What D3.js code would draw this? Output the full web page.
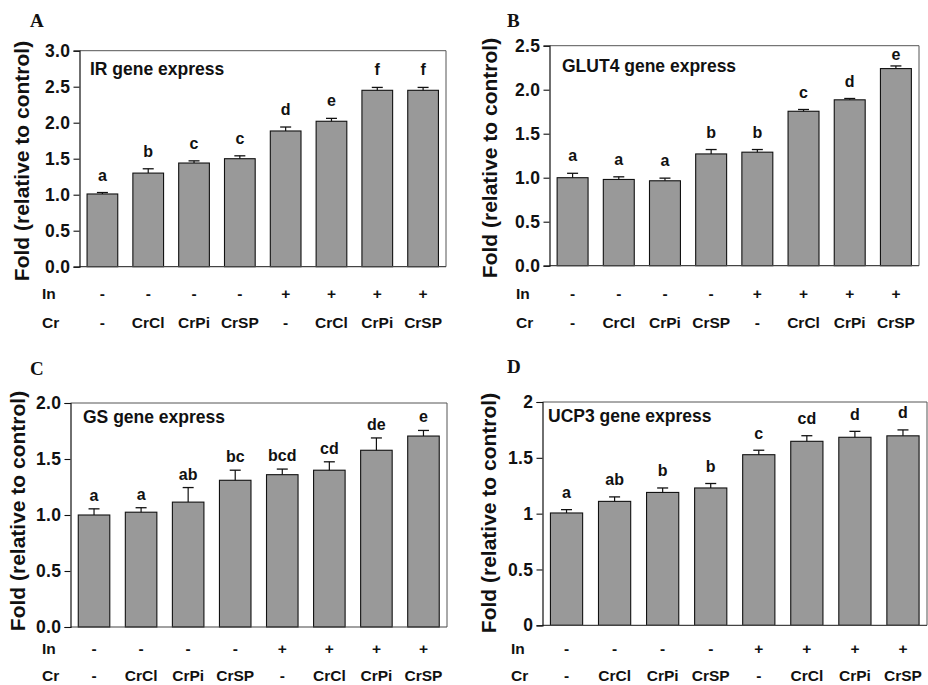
<!DOCTYPE html>
<html>
<head>
<meta charset="utf-8">
<script src="https://cdn.jsdelivr.net/npm/d3@7/dist/d3.min.js"></script>
<style>
  html, body { margin: 0; padding: 0; background: #fff; }
  svg { display: block; }
  text { font-family: "Liberation Sans", Arial, sans-serif; font-weight: bold; fill: #111; }
  .plabel { font-family: "Liberation Serif", "Times New Roman", serif; }
</style>
</head>
<body>
<svg id="chart" width="928" height="685"></svg>
<script>
// ---------------- data ----------------
const insulin = ["-", "-", "-", "-", "+", "+", "+", "+"];
const chromium = ["-", "CrCl", "CrPi", "CrSP", "-", "CrCl", "CrPi", "CrSP"];

const irValues   = [1.01, 1.30, 1.44, 1.50, 1.885, 2.02, 2.45, 2.45];
const irErrors   = [0.02, 0.06, 0.03, 0.04, 0.055, 0.04, 0.04, 0.04];
const irLetters  = ["a", "b", "c", "c", "d", "e", "f", "f"];
const irTicks    = [0, 0.5, 1.0, 1.5, 2.0, 2.5, 3.0];

const glutValues  = [1.00, 0.98, 0.965, 1.27, 1.29, 1.755, 1.885, 2.24];
const glutErrors  = [0.05, 0.03, 0.03, 0.05, 0.03, 0.02, 0.015, 0.03];
const glutLetters = ["a", "a", "a", "b", "b", "c", "d", "e"];
const glutTicks   = [0, 0.5, 1.0, 1.5, 2.0, 2.5];

const gsValues  = [1.00, 1.025, 1.115, 1.31, 1.36, 1.40, 1.578, 1.705];
const gsErrors  = [0.055, 0.04, 0.13, 0.09, 0.05, 0.075, 0.11, 0.05];
const gsLetters = ["a", "a", "ab", "bc", "bcd", "cd", "de", "e"];
const gsTicks   = [0, 0.5, 1.0, 1.5, 2.0];

const ucpValues  = [1.006, 1.11, 1.19, 1.23, 1.528, 1.648, 1.684, 1.697];
const ucpErrors  = [0.03, 0.04, 0.04, 0.04, 0.04, 0.05, 0.053, 0.053];
const ucpLetters = ["a", "ab", "b", "b", "c", "cd", "d", "d"];
const ucpTicks   = [0, 0.5, 1, 1.5, 2];

// ---------------- layout ----------------
const panels = [
  { id: "A", title: "IR gene express", values: irValues, errors: irErrors, letters: irLetters,
    ticks: irTicks, fmt: d3.format(".1f"), ymax: 3.0,
    box: { l: 79.5, r: 446, t: 50.7, b: 266.7 },
    letterX: 30, letterY: 27, titleX: 90, titleY: 75, yTitleX: 23, yTitleY: 161,
    rowX: 42, inY: 299, crY: 328, gap: 12 },
  { id: "B", title: "GLUT4 gene express", values: glutValues, errors: glutErrors, letters: glutLetters,
    ticks: glutTicks, fmt: d3.format(".1f"), ymax: 2.5,
    box: { l: 549.5, r: 919, t: 45.7, b: 265.7 },
    letterX: 507, letterY: 27, titleX: 562, titleY: 72, yTitleX: 491, yTitleY: 158,
    rowX: 516, inY: 299, crY: 328, gap: 12 },
  { id: "C", title: "GS gene express", values: gsValues, errors: gsErrors, letters: gsLetters,
    ticks: gsTicks, fmt: d3.format(".1f"), ymax: 2.0,
    box: { l: 70.5, r: 447, t: 403, b: 627 },
    letterX: 30, letterY: 375, titleX: 83, titleY: 423, yTitleX: 19, yTitleY: 511,
    rowX: 42, inY: 654, crY: 681, gap: 8 },
  { id: "D", title: "UCP3 gene express", values: ucpValues, errors: ucpErrors, letters: ucpLetters,
    ticks: ucpTicks, fmt: d3.format("~g"), ymax: 2.0,
    box: { l: 542.5, r: 927, t: 402, b: 625.3 },
    letterX: 507, letterY: 373, titleX: 548, titleY: 422, yTitleX: 490, yTitleY: 513,
    rowX: 511, inY: 654, crY: 681, gap: 11.5 }
];

const svg = d3.select("#chart");
const idx = d3.range(8);

panels.forEach(p => {
  const g = svg.append("g");
  const b = p.box;

  const x = d3.scaleBand().domain(idx).range([b.l, b.r]).paddingInner(0.33).paddingOuter(0.165);
  const y = d3.scaleLinear().domain([0, p.ymax]).range([b.b, b.t]);

  // frame (top & right)
  g.append("path")
    .attr("d", `M${b.l},${b.t}H${b.r}V${b.b}`)
    .attr("fill", "none").attr("stroke", "#555").attr("stroke-width", 1);

  // bars
  g.selectAll("rect.bar").data(p.values).join("rect")
    .attr("class", "bar")
    .attr("x", (d, i) => x(i))
    .attr("width", x.bandwidth())
    .attr("y", d => y(d))
    .attr("height", d => y(0) - y(d))
    .attr("fill", "#999999")
    .attr("stroke", "#111")
    .attr("stroke-width", 1.1);

  // error bars
  const eg = g.selectAll("g.err").data(p.values).join("g").attr("class", "err");
  eg.append("line")
    .attr("x1", (d, i) => x(i) + x.bandwidth() / 2)
    .attr("x2", (d, i) => x(i) + x.bandwidth() / 2)
    .attr("y1", d => y(d))
    .attr("y2", (d, i) => y(d + p.errors[i]))
    .attr("stroke", "#111").attr("stroke-width", 1.2);
  eg.append("line")
    .attr("x1", (d, i) => x(i) + x.bandwidth() / 2 - 5.5)
    .attr("x2", (d, i) => x(i) + x.bandwidth() / 2 + 5.5)
    .attr("y1", (d, i) => y(d + p.errors[i]))
    .attr("y2", (d, i) => y(d + p.errors[i]))
    .attr("stroke", "#111").attr("stroke-width", 1.3);

  // significance letters
  g.selectAll("text.sig").data(p.letters).join("text")
    .attr("class", "sig")
    .attr("x", (d, i) => x(i) + x.bandwidth() / 2)
    .attr("y", (d, i) => Math.max(y(p.values[i] + p.errors[i]) - p.gap, b.t + 14))
    .attr("text-anchor", "middle")
    .attr("font-size", 16)
    .text(d => d);

  // bottom axis line
  g.append("line")
    .attr("x1", b.l).attr("x2", b.r).attr("y1", b.b).attr("y2", b.b)
    .attr("stroke", "#444").attr("stroke-width", 1.2);

  // left axis
  const ax = g.append("g")
    .attr("transform", `translate(${b.l},0)`)
    .call(d3.axisLeft(y).tickValues(p.ticks).tickFormat(p.fmt).tickSize(6).tickPadding(3));
  ax.select(".domain").attr("stroke", "#111").attr("stroke-width", 1.2);
  ax.selectAll(".tick line").attr("stroke", "#111").attr("stroke-width", 1.1);
  ax.selectAll(".tick text")
    .attr("font-family", "Liberation Sans, Arial, sans-serif")
    .attr("font-weight", "bold")
    .attr("font-size", 17.5)
    .attr("letter-spacing", 0.4)
    .attr("fill", "#111");

  // in-plot title
  g.append("text")
    .attr("x", p.titleX).attr("y", p.titleY)
    .attr("font-size", 17.5)
    .text(p.title);

  // panel letter
  g.append("text")
    .attr("class", "plabel")
    .attr("x", p.letterX).attr("y", p.letterY)
    .attr("font-size", 19)
    .text(p.id);

  // y axis title
  g.append("text")
    .attr("transform", `translate(${p.yTitleX},${p.yTitleY}) rotate(-90)`)
    .attr("text-anchor", "middle")
    .attr("dy", "0.3em")
    .attr("font-size", 21)
    .text("Fold (relative to control)");

  // In / Cr rows
  g.append("text").attr("x", p.rowX).attr("y", p.inY).attr("font-size", 15.5).text("In");
  g.append("text").attr("x", p.rowX).attr("y", p.crY).attr("font-size", 15.5).text("Cr");
  g.selectAll("text.inrow").data(insulin).join("text")
    .attr("class", "inrow")
    .attr("x", (d, i) => x(i) + x.bandwidth() / 2)
    .attr("y", p.inY)
    .attr("text-anchor", "middle")
    .attr("font-size", 15.5)
    .text(d => d);
  g.selectAll("text.crrow").data(chromium).join("text")
    .attr("class", "crrow")
    .attr("x", (d, i) => x(i) + x.bandwidth() / 2)
    .attr("y", p.crY)
    .attr("text-anchor", "middle")
    .attr("font-size", 15.5)
    .text(d => d);
});
</script>
</body>
</html>
